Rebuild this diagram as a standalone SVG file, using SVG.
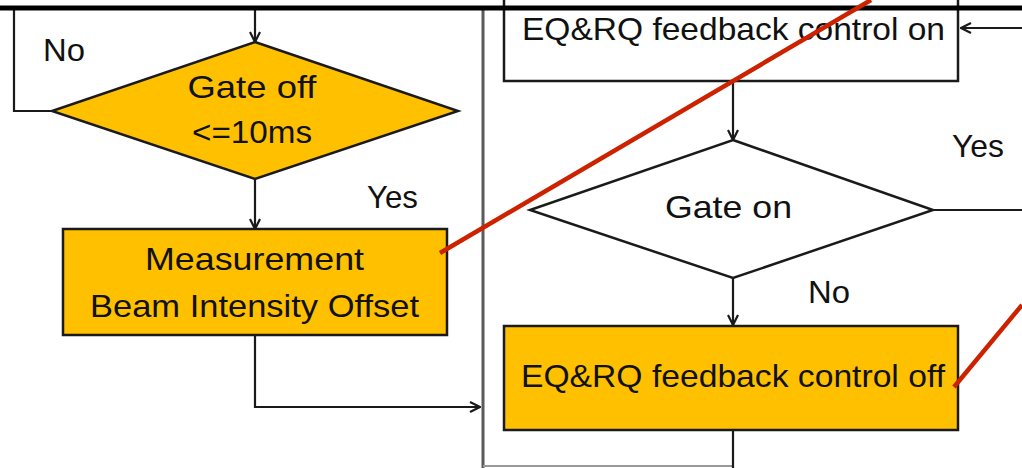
<svg xmlns="http://www.w3.org/2000/svg" width="1022" height="468" viewBox="0 0 1022 468">
<style>
.t{font-family:"Liberation Sans",Arial,sans-serif;font-size:32px;fill:#111}
.m{text-anchor:middle}
.o{fill:#FFC000;stroke:#1a1a1a;stroke-width:2.5}
.w{fill:#fff;stroke:#1a1a1a;stroke-width:2.5}
.c{fill:none;stroke:#1a1a1a;stroke-width:2.2}
.g{fill:none;stroke:#5a5a5a;stroke-width:3}
.r{fill:none;stroke:#CC2200;stroke-width:4.5}
</style>
<defs>
<marker id="a" viewBox="0 0 12 12" refX="11" refY="6" markerWidth="12" markerHeight="12" markerUnits="userSpaceOnUse" orient="auto">
<path d="M1,1 L11,6 L1,11" fill="none" stroke="#1a1a1a" stroke-width="2.2"/>
</marker>
</defs>
<rect width="1022" height="468" fill="#fff"/>
<g id="frame">
<line x1="483" y1="8" x2="483" y2="468" class="g"/>
<line x1="483" y1="466" x2="733" y2="466" stroke="#999" stroke-width="2"/>
</g>
<g id="connectors">
<path d="M255,10 V42" class="c" marker-end="url(#a)"/>
<path d="M52,111 H14 V10" class="c"/>
<path d="M255,179 V229" class="c" marker-end="url(#a)"/>
<path d="M255,335 V407 H480" class="c" marker-end="url(#a)"/>
<path d="M733,81 V140" class="c" marker-end="url(#a)"/>
<path d="M733,278 V325" class="c" marker-end="url(#a)"/>
<path d="M733,430 V468" class="c"/>
<path d="M933,210 H1022" class="c"/>
<path d="M1022,28 H961" class="c" marker-end="url(#a)"/>
</g>
<g id="gate-off">
<polygon points="255,42 458,111 255,179 52,111" class="o"/>
<text x="252" y="98" class="t m" textLength="129" lengthAdjust="spacingAndGlyphs">Gate off</text>
<text x="252" y="143" class="t m" textLength="120" lengthAdjust="spacingAndGlyphs">&lt;=10ms</text>
</g>
<g id="measurement">
<rect x="63" y="229" width="384" height="106" class="o"/>
<text x="254.5" y="270" class="t m" textLength="219" lengthAdjust="spacingAndGlyphs">Measurement</text>
<text x="254.5" y="317" class="t m" textLength="329" lengthAdjust="spacingAndGlyphs">Beam Intensity Offset</text>
</g>
<g id="feedback-on">
<rect x="504" y="-20" width="454" height="101" class="w"/>
<text x="733.5" y="40" class="t m" textLength="423" lengthAdjust="spacingAndGlyphs">EQ&amp;RQ feedback control on</text>
</g>
<g id="gate-on">
<polygon points="733,140 933,210 733,278 530,210" class="w"/>
<text x="728.5" y="218" class="t m" textLength="127" lengthAdjust="spacingAndGlyphs">Gate on</text>
</g>
<g id="feedback-off">
<rect x="504" y="326" width="454" height="104" class="o"/>
<text x="733" y="387" class="t m" textLength="424" lengthAdjust="spacingAndGlyphs">EQ&amp;RQ feedback control off</text>
</g>
<g id="labels">
<text x="43" y="61" class="t" textLength="42" lengthAdjust="spacingAndGlyphs">No</text>
<text x="367" y="208" class="t" textLength="51" lengthAdjust="spacingAndGlyphs">Yes</text>
<text x="952" y="157" class="t" textLength="52" lengthAdjust="spacingAndGlyphs">Yes</text>
<text x="808" y="303" class="t" textLength="42" lengthAdjust="spacingAndGlyphs">No</text>
</g>
<g id="topline">
<line x1="0" y1="8" x2="1022" y2="8" stroke="#000" stroke-width="5"/>
</g>
<g id="callouts">
<line x1="440" y1="253" x2="871" y2="0" class="r"/>
<line x1="954" y1="387" x2="1022" y2="305" class="r"/>
</g>
</svg>
